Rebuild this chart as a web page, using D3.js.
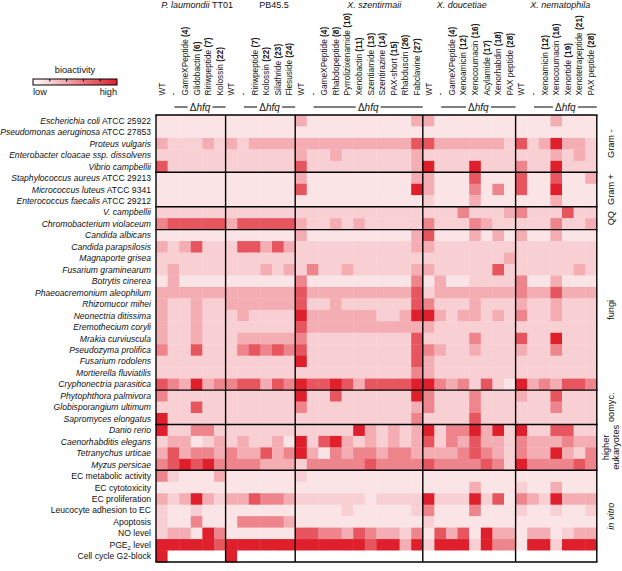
<!DOCTYPE html>
<html><head><meta charset="utf-8">
<script src="https://cdn.jsdelivr.net/npm/d3@7"></script>
<style>
body{margin:0;background:#fff;}
svg{display:block;font-family:"Liberation Sans",Arial,sans-serif;}
</style>
</head><body>
<svg id="chart" width="622" height="571"></svg>
<script>
// ---------------- DATA ----------------
const strains = ["P. laumondii TT01", "PB45.5", "X. szentirmaii", "X. doucetiae", "X. nematophila"];
const strainItalic = ["P. laumondii", "", "X. szentirmaii", "X. doucetiae", "X. nematophila"];

const colsTT01 = ["WT", "-", "GameXPeptide (4)", "Glidobactin (6)", "Ririwpeptide (7)", "Kolossin (22)"];
const colsPB455 = ["WT", "-", "Ririwpeptide (7)", "Kolossin (22)", "Silathride (23)", "Flesuside (24)"];
const colsSzent = ["WT", "-", "GameXPeptide (4)", "Rhabdopeptide (8)", "Pyrrolizixenamide (10)", "Xenobactin (11)",
  "Szentiamide (13)", "Szentirazine (14)", "PAX-short (15)", "Rhabduscin (26)", "Fabclavine (27)"];
const colsDouc = ["WT", "-", "GameXPeptide (4)", "Xenoamicin (12)", "Xenocoumacin (16)", "Acylamide (17)",
  "Xenorhabdin (18)", "PAX peptide (28)"];
const colsNemat = ["WT", "-", "Xenoamicin (12)", "Xenocoumacin (16)", "Xenortide (19)", "Xenotetrapeptide (21)", "PAX peptide (28)"];

const rowGroups = ["Gram -", "Gram +", "QQ", "fungi", "oomyc.", "higher eukaryotes", "in vitro"];

const rowsGramNeg = ["Escherichia coli ATCC 25922", "Pseudomonas aeruginosa ATCC 27853", "Proteus vulgaris",
  "Enterobacter cloacae ssp. dissolvens", "Vibrio campbellii"];
const rowsGramPos = ["Staphylococcus aureus ATCC 29213", "Micrococcus luteus ATCC 9341", "Enterococcus faecalis ATCC 29212"];
const rowsQQ = ["V. campbellii", "Chromobacterium violaceum"];
const rowsFungi = ["Candida albicans", "Candida parapsilosis", "Magnaporte grisea", "Fusarium graminearum",
  "Botrytis cinerea", "Phaeoacremonium aleophilum", "Rhizomucor mihei", "Neonectria ditissima",
  "Eremothecium coryli", "Mrakia curviuscula", "Pseudozyma prolifica", "Fusarium rodolens",
  "Mortierella fluviatilis", "Cryphonectria parasitica"];
const rowsOomyc = ["Phytophthora palmivora", "Globisporangium ultimum", "Sapromyces elongatus"];
const rowsHigher = ["Danio rerio", "Caenorhabditis elegans", "Tetranychus urticae", "Myzus persicae"];
const rowsInVitro = ["EC metabolic activity", "EC cytotoxicity", "EC proliferation", "Leucocyte adhesion to EC",
  "Apoptosis", "NO level", "PGE2 level", "Cell cycle G2-block"];

// bioactivity level 0 (none) .. 6 (high), columns in order TT01 | PB45.5 | szentirmaii | doucetiae | nematophila
const valsGramNeg = [
  [1,1,1,1,1,1, 1,1,1,1,1,1, 3,1,1,1,1,1,1,1,1,1,3, 3,1,1,1,1,1,1,1, 1,1,1,3,1,1,1],
  [1,1,1,1,1,1, 1,1,1,1,1,1, 1,1,1,1,1,1,1,1,1,1,1, 1,1,1,1,1,1,1,1, 1,1,1,1,1,1,1],
  [3,2,2,2,3,2, 3,2,3,3,3,3, 3,3,3,3,3,3,3,3,3,3,5, 5,3,3,3,3,3,3,2, 5,2,3,6,3,3,2],
  [2,2,2,2,2,2, 2,2,2,2,2,2, 3,2,2,3,2,2,2,2,2,2,3, 2,2,2,2,2,2,2,2, 2,2,2,3,2,3,2],
  [5,2,2,2,2,2, 2,2,2,2,2,2, 5,2,2,2,2,2,2,2,2,2,3, 6,2,2,2,6,2,2,2, 4,2,2,6,2,2,2]
];
const valsGramPos = [
  [1,1,1,1,1,1, 1,1,1,1,1,1, 3,1,1,1,1,1,1,1,1,1,3, 3,1,1,1,5,1,1,1, 5,1,1,5,1,1,3],
  [1,1,1,1,1,1, 1,1,1,1,1,1, 5,1,1,1,1,1,1,1,1,1,6, 3,1,1,1,4,1,4,1, 5,1,1,6,1,1,1],
  [1,1,1,1,1,1, 1,1,1,1,1,1, 1,1,1,1,1,1,1,1,1,1,1, 2,1,1,1,3,1,1,1, 1,1,1,3,1,1,1]
];
const valsQQ = [
  [2,2,2,2,2,2, 2,2,2,2,2,2, 2,2,2,2,2,2,2,2,2,2,2, 2,2,2,4,2,2,2,3, 4,2,2,2,5,2,2],
  [4,5,5,5,5,5, 3,5,5,5,5,5, 3,2,2,3,2,3,2,2,2,2,2, 4,2,2,2,4,3,2,2, 2,2,2,4,2,2,3]
];
const valsFungi = [
  [1,1,1,1,1,1, 1,1,1,1,1,1, 3,1,1,1,1,1,1,1,1,1,3, 5,1,1,1,3,1,3,1, 3,1,1,3,1,1,1],
  [3,2,3,5,2,2, 2,5,5,3,5,3, 2,2,2,2,2,2,2,2,2,2,3, 3,2,2,2,2,2,2,2, 2,2,2,2,2,2,2],
  [2,2,2,2,2,2, 2,2,2,2,2,2, 2,2,2,2,2,2,2,2,2,2,2, 2,2,2,2,2,2,2,3, 2,2,2,2,2,2,2],
  [2,3,2,2,2,2, 2,2,2,3,2,3, 2,4,2,2,3,2,2,2,2,2,3, 3,2,2,2,2,2,5,2, 2,2,2,2,2,3,2],
  [1,3,1,1,1,1, 1,1,1,1,1,1, 4,1,1,1,1,1,1,1,1,1,4, 1,3,1,1,2,2,2,2, 4,1,1,3,1,1,1],
  [3,3,3,3,3,3, 3,3,3,3,3,3, 5,3,3,3,3,3,3,3,3,3,5, 2,3,3,3,3,3,3,3, 4,3,3,5,3,3,3],
  [3,2,2,3,2,2, 3,3,3,3,3,3, 5,2,2,3,2,2,2,2,2,2,5, 4,2,2,2,3,2,2,2, 3,2,2,3,2,2,2],
  [3,2,2,3,2,2, 2,3,2,2,2,2, 6,3,3,3,3,3,3,2,2,3,6, 6,3,2,3,3,2,3,2, 4,2,2,3,2,2,2],
  [3,2,2,3,2,2, 2,2,2,2,2,2, 5,3,3,3,3,3,3,3,3,3,3, 3,2,2,2,2,2,2,2, 2,2,2,2,2,2,2],
  [3,2,2,3,2,2, 2,3,3,3,3,3, 4,2,2,2,2,2,2,2,2,2,5, 2,2,2,2,4,2,2,2, 5,2,2,6,2,2,2],
  [4,2,2,5,2,2, 2,4,5,4,5,4, 5,2,2,2,2,2,2,2,2,2,5, 4,3,2,2,3,2,2,2, 3,2,2,4,2,2,2],
  [2,2,2,2,2,2, 2,2,2,2,2,2, 6,2,2,2,2,2,2,2,2,2,5, 3,2,2,2,2,2,2,2, 2,2,2,2,2,2,2],
  [2,2,2,2,2,2, 2,2,2,2,2,2, 2,2,2,2,2,2,2,2,2,2,4, 3,2,2,2,2,2,2,2, 2,2,2,2,2,2,2],
  [5,4,3,6,3,4, 4,5,5,3,5,4, 6,5,5,6,5,3,5,5,5,5,6, 6,4,3,4,2,5,2,1, 6,3,4,3,5,5,4]
];
const valsOomyc = [
  [4,2,2,2,2,2, 2,2,2,2,2,2, 6,2,2,5,2,2,2,2,2,2,6, 4,2,2,2,4,2,2,2, 3,2,2,5,2,2,2],
  [2,2,2,5,2,2, 2,2,2,2,2,2, 4,2,2,2,2,2,2,2,2,2,3, 4,2,2,2,4,2,2,2, 2,2,2,4,2,2,2],
  [6,2,2,2,2,2, 2,2,2,2,2,2, 2,2,2,2,2,2,2,2,2,2,4, 2,2,2,2,5,2,2,2, 2,2,2,2,2,2,2]
];
const valsHigher = [
  [6,2,2,4,4,2, 2,2,2,2,2,2, 2,2,2,2,2,6,3,2,3,2,3, 6,2,4,4,6,3,6,2, 6,2,2,5,5,2,2],
  [2,3,3,1,2,3, 2,3,2,2,3,1, 6,2,5,6,3,2,3,2,3,2,3, 5,2,4,3,5,3,3,2, 4,3,3,3,4,3,3],
  [3,5,3,4,4,3, 4,3,3,5,3,4, 6,3,1,4,3,4,4,3,4,4,3, 3,3,3,4,5,4,3,2, 4,3,3,6,3,2,4],
  [4,5,6,5,6,4, 4,4,4,3,3,3, 2,4,4,4,4,4,5,4,4,4,4, 5,4,4,4,4,5,4,2, 6,4,4,4,4,5,4]
];
const valsInVitro = [
  [4,2,1,1,1,3, 1,1,1,1,1,1, 2,1,1,1,1,1,1,1,1,1,1, 1,1,1,1,1,1,1,1, 1,1,1,1,1,1,1],
  [1,1,1,1,1,1, 1,1,1,1,1,1, 1,1,1,1,1,1,1,1,1,1,1, 1,1,1,1,3,1,1,1, 2,1,1,3,1,1,1],
  [3,2,3,6,3,2, 3,3,5,4,4,3, 2,2,2,2,2,2,1,2,2,2,2, 6,2,2,2,6,2,5,1, 4,3,2,6,3,3,3],
  [2,1,1,2,1,1, 1,1,1,1,1,1, 1,1,1,1,2,1,1,1,1,1,2, 4,1,1,1,4,1,1,1, 2,1,1,2,1,1,2],
  [2,1,1,4,1,1, 1,4,4,4,4,3, 1,1,1,1,1,1,1,1,1,1,1, 2,1,1,1,1,1,1,1, 1,1,1,1,1,1,1],
  [2,3,3,1,6,4, 1,1,1,1,1,1, 5,5,4,4,3,5,4,3,3,2,4, 1,5,3,5,1,6,3,3, 1,3,3,1,2,3,3],
  [6,6,6,6,6,5, 6,6,6,6,6,6, 6,6,6,6,6,6,5,6,6,3,6, 2,6,6,6,2,6,4,4, 1,6,6,2,6,6,6],
  [6,0,0,0,0,0, 6,0,0,0,0,0, 0,0,0,0,0,0,0,0,0,0,0, 0,0,0,0,0,0,0,0, 0,0,0,0,0,0,0]
];

const legendLabels = ["low", "high"];
const levelToIntensity = [0, 0.12, 0.21, 0.36, 0.55, 0.76, 1];

// ---------------- BUILD ----------------
const colGroups = [colsTT01, colsPB455, colsSzent, colsDouc, colsNemat];
const rowLabelGroups = [rowsGramNeg, rowsGramPos, rowsQQ, rowsFungi, rowsOomyc, rowsHigher, rowsInVitro];
const valueGroups = [valsGramNeg, valsGramPos, valsQQ, valsFungi, valsOomyc, valsHigher, valsInVitro];

const columns = [];
colGroups.forEach((g, gi) => g.forEach(l => columns.push({label: l, group: gi})));
const rows = [];
rowLabelGroups.forEach((g, gi) => g.forEach((l, i) => rows.push({label: l, group: gi, values: valueGroups[gi][i]})));

const svg = d3.select("#chart");
const L = {left: 156, right: 596.8, top: 115, bottom: 562};
const x = d3.scaleBand().domain(d3.range(columns.length)).range([L.left, L.right]);
const y = d3.scaleBand().domain(d3.range(rows.length)).range([L.top, L.bottom]);
const color = d3.scaleLinear().domain([0, 1]).range(["#ffffff", "#e01f2d"]).interpolate(d3.interpolateRgb);
const bw = x.bandwidth(), bh = y.bandwidth();

// cells
const cells = [];
rows.forEach((r, ri) => r.values.forEach((v, ci) => cells.push({ri, ci, v})));
svg.append("g").selectAll("rect").data(cells).join("rect")
  .attr("x", d => x(d.ci)).attr("y", d => y(d.ri))
  .attr("width", bw + 0.4).attr("height", bh + 0.4)
  .attr("fill", d => color(levelToIntensity[d.v]));

// group borders
const colStarts = [0]; colGroups.forEach(g => colStarts.push(colStarts[colStarts.length - 1] + g.length));
const rowStarts = [0]; rowLabelGroups.forEach(g => rowStarts.push(rowStarts[rowStarts.length - 1] + g.length));
const xEdge = i => i >= columns.length ? L.right : x(i);
const yEdge = i => i >= rows.length ? L.bottom : y(i);
const gridG = svg.append("g").attr("stroke", "#000").attr("stroke-width", 1.4);
colStarts.forEach(c => gridG.append("line").attr("x1", xEdge(c)).attr("x2", xEdge(c)).attr("y1", L.top).attr("y2", L.bottom));
rowStarts.forEach(r => gridG.append("line").attr("x1", L.left - 0.7).attr("x2", L.right + 0.7).attr("y1", yEdge(r)).attr("y2", yEdge(r)));

// row labels
const rowG = svg.append("g").attr("font-size", 8.6).attr("fill", "#111");
rows.forEach((r, ri) => {
  const t = rowG.append("text").attr("x", 151).attr("y", y(ri) + bh / 2).attr("dy", "0.35em").attr("text-anchor", "end");
  if (r.group === 6) {
    const m = r.label.match(/^PGE2(.*)$/);
    if (m) {
      t.append("tspan").text("PGE");
      t.append("tspan").text("2").attr("font-size", 6).attr("dy", "2");
      t.append("tspan").text(m[1]).attr("dy", "-2");
    } else t.text(r.label);
  } else {
    const m = r.label.match(/^(.*?)( ATCC .*)$/);
    if (m) {
      t.append("tspan").attr("font-style", "italic").text(m[1]);
      t.append("tspan").text(m[2]);
    } else t.append("tspan").attr("font-style", "italic").text(r.label);
  }
});

// column labels
const colG = svg.append("g").attr("font-size", 8.3).attr("fill", "#111");
columns.forEach((c, ci) => {
  const t = colG.append("text")
    .attr("transform", `translate(${x(ci) + bw / 2},95.5) rotate(-90)`)
    .attr("dy", "0.35em").attr("text-anchor", "start");
  const m = c.label.match(/^(.*) (\(\d+\))$/);
  if (m) {
    t.append("tspan").text(m[1] + " ");
    t.append("tspan").attr("font-weight", "bold").text(m[2]);
  } else t.text(c.label);
});

// strain titles
const titleAnchor = [0.59, 0.695, 0.62, 0.42, 0.55];
const titleG = svg.append("g").attr("font-size", 9).attr("fill", "#111");
strains.forEach((s, gi) => {
  const x0 = xEdge(colStarts[gi]), x1 = xEdge(colStarts[gi + 1]);
  const t = titleG.append("text").attr("x", x0 + (x1 - x0) * titleAnchor[gi]).attr("y", 8).attr("text-anchor", "middle");
  const it = strainItalic[gi];
  if (it && s.startsWith(it)) {
    t.append("tspan").attr("font-style", "italic").text(it);
    if (s.length > it.length) t.append("tspan").text(s.slice(it.length));
  } else t.text(s);
});

// Δhfq brackets
const hfqG = svg.append("g");
colGroups.forEach((g, gi) => {
  const xa = x(colStarts[gi] + 1) + bw / 2 + 1;
  const xb = xEdge(colStarts[gi + 1]);
  const mid = (xa + xb) / 2;
  hfqG.append("line").attr("x1", xa).attr("x2", mid - 12.5).attr("y1", 107).attr("y2", 107).attr("stroke", "#000").attr("stroke-width", 1);
  hfqG.append("line").attr("x1", mid + 12.5).attr("x2", xb).attr("y1", 107).attr("y2", 107).attr("stroke", "#000").attr("stroke-width", 1);
  const t = hfqG.append("text").attr("x", mid).attr("y", 110.5).attr("text-anchor", "middle").attr("font-size", 10).attr("fill", "#111");
  t.append("tspan").text("Δ");
  t.append("tspan").attr("font-style", "italic").text("hfq");
});

// right-side group labels
const rightG = svg.append("g").attr("font-size", 9.2).attr("fill", "#111");
rowGroups.forEach((gname, gi) => {
  const cy = (yEdge(rowStarts[gi]) + yEdge(rowStarts[gi + 1])) / 2;
  if (gname === "higher eukaryotes") {
    ["higher", "eukaryotes"].forEach((w, k) => {
      rightG.append("text").attr("transform", `translate(${606 + k * 9.5},${cy}) rotate(-90)`)
        .attr("dy", "0.35em").attr("text-anchor", "middle").text(w);
    });
  } else {
    const t = rightG.append("text").attr("transform", `translate(611,${cy}) rotate(-90)`)
      .attr("dy", "0.35em").attr("text-anchor", "middle").text(gname);
    if (gname === "in vitro") t.attr("font-style", "italic");
  }
});

// legend
const defs = svg.append("defs");
const grad = defs.append("linearGradient").attr("id", "lg");
grad.append("stop").attr("offset", "0%").attr("stop-color", color(0));
grad.append("stop").attr("offset", "100%").attr("stop-color", color(1));
const lx = d3.scaleLinear().domain([0, 1]).range([33, 117]);
const legG = svg.append("g");
legG.append("text").attr("x", (lx(0) + lx(1)) / 2).attr("y", 73).attr("text-anchor", "middle").attr("font-size", 9.2).attr("fill", "#111").text("bioactivity");
legG.append("rect").attr("x", lx(0)).attr("y", 79).attr("width", lx(1) - lx(0)).attr("height", 6)
  .attr("fill", "url(#lg)").attr("stroke", "#000").attr("stroke-width", 1);
[0.2, 0.4, 0.6, 0.8].forEach(v => legG.append("line").attr("x1", lx(v)).attr("x2", lx(v)).attr("y1", 79).attr("y2", 81.5).attr("stroke", "#000").attr("stroke-width", 1));
legG.append("text").attr("x", lx(0)).attr("y", 95).attr("font-size", 9.2).attr("fill", "#111").text(legendLabels[0]);
legG.append("text").attr("x", lx(1)).attr("y", 95).attr("text-anchor", "end").attr("font-size", 9.2).attr("fill", "#111").text(legendLabels[1]);
</script>
</body></html>
